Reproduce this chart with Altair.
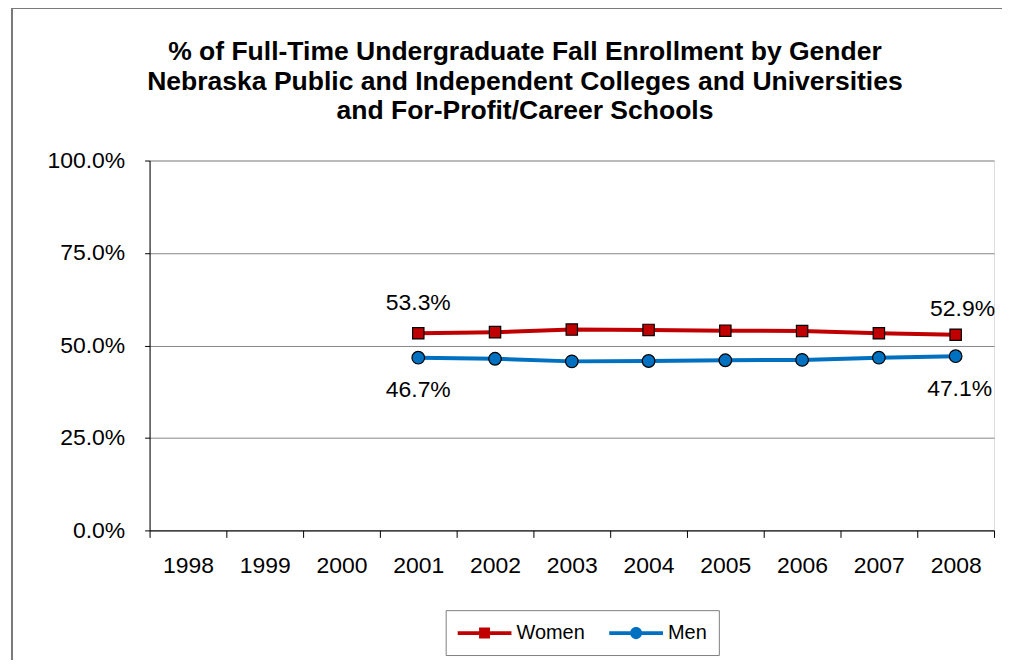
import altair as alt
import pandas as pd

# ---- data ----
all_years = ["1998", "1999", "2000", "2001", "2002", "2003", "2004", "2005", "2006", "2007", "2008"]
data_years = ["2001", "2002", "2003", "2004", "2005", "2006", "2007", "2008"]
women = [53.3, 53.6, 54.3, 54.2, 54.0, 53.9, 53.3, 52.9]
men = [46.7, 46.4, 45.7, 45.8, 46.0, 46.1, 46.7, 47.1]
series_names = ["Women", "Men"]
series_colors = ["#C00000", "#0070C0"]
series_shapes = ["square", "circle"]
y_ticks = [0, 25, 50, 75, 100]
title_lines = [
    "% of Full-Time Undergraduate Fall Enrollment by Gender",
    "Nebraska Public and Independent Colleges and Universities",
    "and For-Profit/Career Schools",
]

rows = []
for y, w, m in zip(data_years, women, men):
    rows.append({"year": y, "series": "Women", "value": w})
    rows.append({"year": y, "series": "Men", "value": m})
df = pd.DataFrame(rows)
df["label"] = df["value"].map(lambda v: f"{v:.1f}%")

FONT = "Liberation Sans"

x_enc = alt.X(
    "year:O",
    sort=all_years,
    scale=alt.Scale(type="band", domain=all_years, paddingInner=0, paddingOuter=0),
    axis=alt.Axis(
        title=None, labelAngle=0, tickBand="extent", tickSize=7, grid=False,
        domainColor="black", tickColor="black", labelFontSize=23, labelPadding=17,
        labelColor="black", labelFont=FONT,
    ),
)
y_enc = alt.Y(
    "value:Q",
    scale=alt.Scale(domain=[0, 100]),
    axis=alt.Axis(
        title=None, values=y_ticks, labelExpr="format(datum.value, '.1f') + '%'",
        tickSize=5, grid=True, gridColor="#868686", gridWidth=1,
        domainColor="black", tickColor="black", labelFontSize=23, labelPadding=20,
        labelColor="black", labelFont=FONT,
    ),
)
color_scale = alt.Scale(domain=series_names, range=series_colors)

base = alt.Chart(df)

frame = alt.Chart(alt.Data(values=[{"f": 1}])).mark_rect(
    fillOpacity=0, stroke="#7a7a7a", strokeWidth=2
).encode(
    x=alt.value(-138), x2=alt.value(900), y=alt.value(-153), y2=alt.value(560)
)

series_layers = []
for name, col, shp in zip(series_names, series_colors, series_shapes):
    sub = base.transform_filter(alt.datum.series == name)
    series_layers.append(sub.mark_line(strokeWidth=4, color=col).encode(x=x_enc, y=y_enc))
for name, col, shp in zip(series_names, series_colors, series_shapes):
    sub = base.transform_filter(alt.datum.series == name)
    series_layers.append(
        sub.mark_point(
            shape=shp, filled=True, fill=col, size=130 if shp == "square" else 160,
            stroke="black", strokeWidth=1.2, opacity=1,
        ).encode(x=x_enc, y=y_enc)
    )

def label_layer(series, year, dx, dy):
    return base.transform_filter(
        (alt.datum.series == series) & (alt.datum.year == year)
    ).mark_text(font=FONT, fontSize=23, color="black", dx=dx, dy=dy, baseline="middle").encode(
        x=x_enc, y=y_enc, text="label:N"
    )

labels = [
    label_layer("Women", "2001", 0, -30),
    label_layer("Men", "2001", 0, 32),
    label_layer("Women", "2008", 7, -26),
    label_layer("Men", "2008", 4, 33),
]

# legend symbols: line segment with marker (custom paths)
path_women = "M-2.45,-0.17H2.45V0.17H-2.45Z M-0.5,-0.5H0.5V0.5H-0.5Z"
path_men = ("M-2.45,-0.17H2.45V0.17H-2.45Z "
            "M0.55,0A0.55,0.55 0 1,1 -0.55,0A0.55,0.55 0 1,1 0.55,0Z")

leg = alt.Legend(
    title=None, orient="none", legendX=297, legendY=451, direction="horizontal",
    strokeColor="#808080", padding=12, symbolSize=484, symbolOffset=16,
    labelOffset=21, labelFontSize=20, labelFont=FONT, labelColor="black",
    columnPadding=24, symbolStrokeWidth=0,
)
legend_layer = base.transform_filter("false").mark_point(filled=True, opacity=1).encode(
    x=x_enc, y=y_enc,
    color=alt.Color("series:N", scale=color_scale, legend=leg),
    shape=alt.Shape("series:N", scale=alt.Scale(domain=series_names, range=[path_women, path_men]), legend=leg),
)

chart = alt.layer(
    frame, *series_layers, *labels, legend_layer
).properties(
    width=847, height=371,
    autosize=alt.AutoSizeParams(type="none"),
    padding={"left": 142, "top": 152, "right": 8, "bottom": 129},
    title=alt.TitleParams(
        text=title_lines, font=FONT, fontSize=26.6, fontWeight="bold", color="black",
        anchor="middle", dx=-47, offset=-118, lineHeight=29.5,
    ),
).configure_view(stroke="#868686", strokeWidth=1).configure(background="white")

chart.save("out.html", embed_options={"renderer": "svg", "actions": False})
